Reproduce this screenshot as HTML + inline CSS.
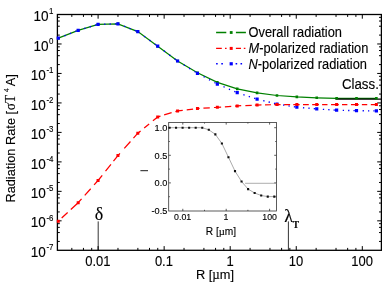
<!DOCTYPE html>
<html><head><meta charset="utf-8"><title>Radiation Rate</title>
<style>html,body{margin:0;padding:0;background:#fff;}svg{display:block;will-change:transform;}text{font-family:"Liberation Sans",sans-serif;fill:#000;stroke:#000;stroke-width:0.12px;}.s{font-family:"Liberation Serif",serif;}</style></head><body>
<svg width="382" height="295" viewBox="0 0 382 295">
<rect width="382" height="295" fill="#fff"/>
<path d="M71.82 250.3v-2.4M71.82 14.5v2.4M83.45 250.3v-2.4M83.45 14.5v2.4M91.70 250.3v-2.4M91.70 14.5v2.4M98.10 250.3v-4.2M98.10 14.5v4.2M117.98 250.3v-2.4M117.98 14.5v2.4M137.87 250.3v-2.4M137.87 14.5v2.4M149.50 250.3v-2.4M149.50 14.5v2.4M157.75 250.3v-2.4M157.75 14.5v2.4M164.15 250.3v-4.2M164.15 14.5v4.2M184.03 250.3v-2.4M184.03 14.5v2.4M203.92 250.3v-2.4M203.92 14.5v2.4M215.55 250.3v-2.4M215.55 14.5v2.4M223.80 250.3v-2.4M223.80 14.5v2.4M230.20 250.3v-4.2M230.20 14.5v4.2M250.08 250.3v-2.4M250.08 14.5v2.4M269.97 250.3v-2.4M269.97 14.5v2.4M281.60 250.3v-2.4M281.60 14.5v2.4M289.85 250.3v-2.4M289.85 14.5v2.4M296.25 250.3v-4.2M296.25 14.5v4.2M316.13 250.3v-2.4M316.13 14.5v2.4M336.02 250.3v-2.4M336.02 14.5v2.4M347.65 250.3v-2.4M347.65 14.5v2.4M355.90 250.3v-2.4M355.90 14.5v2.4M362.30 250.3v-4.2M362.30 14.5v4.2M57.4 241.43h2.4M381.4 241.43h-2.4M57.4 232.55h2.4M381.4 232.55h-2.4M57.4 227.36h2.4M381.4 227.36h-2.4M57.4 223.68h2.4M381.4 223.68h-2.4M57.4 220.83h4.2M381.4 220.83h-4.2M57.4 211.95h2.4M381.4 211.95h-2.4M57.4 203.08h2.4M381.4 203.08h-2.4M57.4 197.89h2.4M381.4 197.89h-2.4M57.4 194.21h2.4M381.4 194.21h-2.4M57.4 191.35h4.2M381.4 191.35h-4.2M57.4 182.48h2.4M381.4 182.48h-2.4M57.4 173.60h2.4M381.4 173.60h-2.4M57.4 168.41h2.4M381.4 168.41h-2.4M57.4 164.73h2.4M381.4 164.73h-2.4M57.4 161.88h4.2M381.4 161.88h-4.2M57.4 153.00h2.4M381.4 153.00h-2.4M57.4 144.13h2.4M381.4 144.13h-2.4M57.4 138.94h2.4M381.4 138.94h-2.4M57.4 135.26h2.4M381.4 135.26h-2.4M57.4 132.40h4.2M381.4 132.40h-4.2M57.4 123.53h2.4M381.4 123.53h-2.4M57.4 114.65h2.4M381.4 114.65h-2.4M57.4 109.46h2.4M381.4 109.46h-2.4M57.4 105.78h2.4M381.4 105.78h-2.4M57.4 102.93h4.2M381.4 102.93h-4.2M57.4 94.05h2.4M381.4 94.05h-2.4M57.4 85.18h2.4M381.4 85.18h-2.4M57.4 79.99h2.4M381.4 79.99h-2.4M57.4 76.31h2.4M381.4 76.31h-2.4M57.4 73.45h4.2M381.4 73.45h-4.2M57.4 64.58h2.4M381.4 64.58h-2.4M57.4 55.70h2.4M381.4 55.70h-2.4M57.4 50.51h2.4M381.4 50.51h-2.4M57.4 46.83h2.4M381.4 46.83h-2.4M57.4 43.98h4.2M381.4 43.98h-4.2M57.4 35.10h2.4M381.4 35.10h-2.4M57.4 26.23h2.4M381.4 26.23h-2.4M57.4 21.04h2.4M381.4 21.04h-2.4M57.4 17.36h2.4M381.4 17.36h-2.4" stroke="#000" stroke-width="1" fill="none"/>
<rect x="57.4" y="14.5" width="324.0" height="235.80" fill="none" stroke="#000" stroke-width="1.3"/>
<text transform="translate(97.9 265.7) scale(1 1.07)" font-size="13" text-anchor="middle">0.01</text>
<text transform="translate(163.9 265.7) scale(1 1.07)" font-size="13" text-anchor="middle">0.1</text>
<text transform="translate(230.0 265.7) scale(1 1.07)" font-size="13" text-anchor="middle">1</text>
<text transform="translate(296.1 265.7) scale(1 1.07)" font-size="13" text-anchor="middle">10</text>
<text transform="translate(362.1 265.7) scale(1 1.07)" font-size="13" text-anchor="middle">100</text>
<text transform="translate(33.4 21.1) scale(1 1.05)" font-size="13.6">10</text>
<text transform="translate(53.4 14.2) scale(1 1.05)" font-size="7.9" text-anchor="end">1</text>
<text transform="translate(33.4 50.6) scale(1 1.05)" font-size="13.6">10</text>
<text transform="translate(53.4 43.7) scale(1 1.05)" font-size="7.9" text-anchor="end">0</text>
<text transform="translate(30.7 80.0) scale(1 1.05)" font-size="13.6">10</text>
<text transform="translate(53.4 73.2) scale(1 1.05)" font-size="7.9" text-anchor="end">-1</text>
<text transform="translate(30.7 109.5) scale(1 1.05)" font-size="13.6">10</text>
<text transform="translate(53.4 102.6) scale(1 1.05)" font-size="7.9" text-anchor="end">-2</text>
<text transform="translate(30.7 139.0) scale(1 1.05)" font-size="13.6">10</text>
<text transform="translate(53.4 132.1) scale(1 1.05)" font-size="7.9" text-anchor="end">-3</text>
<text transform="translate(30.7 168.5) scale(1 1.05)" font-size="13.6">10</text>
<text transform="translate(53.4 161.6) scale(1 1.05)" font-size="7.9" text-anchor="end">-4</text>
<text transform="translate(30.7 198.0) scale(1 1.05)" font-size="13.6">10</text>
<text transform="translate(53.4 191.1) scale(1 1.05)" font-size="7.9" text-anchor="end">-5</text>
<text transform="translate(30.7 227.4) scale(1 1.05)" font-size="13.6">10</text>
<text transform="translate(53.4 220.5) scale(1 1.05)" font-size="7.9" text-anchor="end">-6</text>
<text transform="translate(30.7 256.9) scale(1 1.05)" font-size="13.6">10</text>
<text transform="translate(53.4 250.0) scale(1 1.05)" font-size="7.9" text-anchor="end">-7</text>
<text transform="translate(196 279.2) scale(1 1.07)" font-size="12.8">R [<tspan class="s" font-size="13">µ</tspan>m]</text>
<text transform="translate(14.6 202.6) rotate(-90) scale(1 1.07)" font-size="12.8">Radiation Rate [<tspan class="s" font-size="13.5" x="92.3">σT</tspan><tspan font-size="6.5" dy="-5.2" x="110.6">4</tspan><tspan dy="5.2" x="116.4">A]</tspan></text>
<text transform="translate(341.9 88.5) scale(1 1.07)" font-size="13.3">Class.</text>
<polyline points="58.30,38.2 78.18,30.3 98.06,24.4 117.94,23.8 137.82,31.6 157.70,46.2 177.58,61.0 197.46,72.8 217.34,82.3 237.22,88.9 257.10,92.9 276.98,95.5 296.86,96.9 316.74,97.8 336.62,98.3 356.50,98.3 376.38,98.3" fill="none" stroke="#008000" stroke-width="1.25"/>
<path d="M335.5 99.15H381.4" stroke="#000" stroke-width="1.4"/>
<path d="M57.00 36.90h2.6v2.6h-2.6zM76.88 29.00h2.6v2.6h-2.6zM96.76 23.10h2.6v2.6h-2.6zM116.64 22.50h2.6v2.6h-2.6zM136.52 30.30h2.6v2.6h-2.6zM156.40 44.90h2.6v2.6h-2.6zM176.28 59.70h2.6v2.6h-2.6zM196.16 71.50h2.6v2.6h-2.6zM216.04 81.00h2.6v2.6h-2.6zM235.92 87.60h2.6v2.6h-2.6zM255.80 91.60h2.6v2.6h-2.6zM275.68 94.20h2.6v2.6h-2.6zM295.56 95.60h2.6v2.6h-2.6zM315.44 96.50h2.6v2.6h-2.6zM335.32 97.00h2.6v2.6h-2.6zM355.20 97.00h2.6v2.6h-2.6zM375.08 97.00h2.6v2.6h-2.6z" fill="#008000"/>
<path d="M64.46 35.75L65.66 35.27M69.82 33.62L71.03 33.14M75.19 31.49L76.40 31.01M84.32 28.48L85.56 28.11M89.68 26.89L90.93 26.52M95.05 25.29L96.30 24.92M104.17 24.22L105.47 24.18M109.54 24.05L110.84 24.01M114.90 23.89L116.20 23.85M124.09 26.21L125.30 26.69M129.46 28.32L130.67 28.80M134.83 30.43L136.04 30.90M144.06 36.18L145.10 36.95M149.42 40.12L150.47 40.89M154.79 44.06L155.84 44.83M163.94 50.84L164.98 51.62M169.31 54.84L170.35 55.62M174.67 58.84L175.72 59.61M183.79 64.84L184.89 65.52M189.15 68.16L190.26 68.84M194.52 71.48L195.63 72.17M203.65 76.66L204.79 77.28M209.02 79.58L210.16 80.20M214.38 82.49L215.53 83.11M223.50 86.73L224.70 87.25M228.87 89.03L230.06 89.54M234.24 91.32L235.43 91.84M243.36 94.64L244.60 95.05M248.73 96.42L249.96 96.83M254.10 98.20L255.33 98.61M263.23 100.68L264.49 100.98M268.59 101.98L269.86 102.28M273.96 103.27L275.23 103.58M283.10 104.98L284.38 105.19M288.47 105.85L289.75 106.06M293.83 106.71L295.12 106.92M302.97 107.72L304.27 107.83M308.34 108.18L309.63 108.29M313.71 108.64L315.00 108.75M322.85 109.30L324.15 109.38M328.22 109.65L329.52 109.74M333.59 110.00L334.88 110.09M342.73 110.35L344.03 110.39M348.10 110.49L349.40 110.52M353.46 110.62L354.76 110.66M362.61 110.76L363.91 110.77M367.98 110.82L369.28 110.83M373.34 110.87L374.64 110.88" fill="none" stroke="#0000ff" stroke-width="1.35"/>
<path d="M56.70 36.60h3.2v3.2h-3.2zM76.58 28.70h3.2v3.2h-3.2zM96.46 22.80h3.2v3.2h-3.2zM116.34 22.20h3.2v3.2h-3.2zM136.22 30.00h3.2v3.2h-3.2zM156.10 44.60h3.2v3.2h-3.2zM175.98 59.40h3.2v3.2h-3.2zM195.86 71.70h3.2v3.2h-3.2zM215.74 82.50h3.2v3.2h-3.2zM235.62 91.00h3.2v3.2h-3.2zM255.50 97.60h3.2v3.2h-3.2zM275.38 102.40h3.2v3.2h-3.2zM295.26 105.60h3.2v3.2h-3.2zM315.14 107.30h3.2v3.2h-3.2zM335.02 108.60h3.2v3.2h-3.2zM354.90 109.10h3.2v3.2h-3.2zM374.78 109.30h3.2v3.2h-3.2z" fill="#0000ff"/>
<path d="M61.68 218.05L67.64 212.50M70.82 209.54L78.18 202.70M78.18 202.70L81.56 198.93M84.74 195.37L90.70 188.71M94.08 184.94L98.06 180.50M98.06 180.50L102.23 175.27M105.52 171.16L110.98 164.31M113.47 161.20L117.94 155.60M117.94 155.60L119.93 153.36M124.30 148.43L130.46 141.49M133.45 138.13L137.82 133.20M137.82 133.20L140.60 130.92M144.18 127.98L149.15 123.91M152.93 120.81L157.70 116.90M157.70 116.90L160.48 116.06M164.16 114.95L171.62 112.70M175.39 111.56L177.58 110.90M177.58 110.90L182.75 110.28M186.72 109.80L193.09 109.03M196.86 108.57L197.46 108.50M197.46 108.50L199.65 108.37M203.42 108.14L209.79 107.76M213.96 107.50L217.34 107.30M217.34 107.30L221.12 107.03M224.89 106.77L231.26 106.32M235.03 106.05L237.22 105.90M237.22 105.90L241.20 105.74M245.37 105.57L251.73 105.32M254.91 105.19L257.10 105.10M257.10 105.10L261.47 104.99M265.05 104.90L271.02 104.75M274.20 104.67L276.98 104.60M276.98 104.60L280.56 104.58M284.14 104.56L290.10 104.53M293.28 104.52L296.86 104.50M296.86 104.50L299.64 104.50M303.02 104.50L308.79 104.50M312.17 104.50L316.74 104.50M316.74 104.50L318.93 104.50M322.11 104.50L327.48 104.50M331.05 104.50L336.62 104.50M336.62 104.50L338.81 104.50M341.99 104.50L347.36 104.50M350.93 104.50L356.50 104.50M356.50 104.50L358.69 104.50M361.87 104.50L367.24 104.50M370.81 104.50L376.38 104.50" fill="none" stroke="#ff0000" stroke-width="1.25"/>
<path d="M56.80 219.70h3.0v3.0h-3.0zM76.68 201.20h3.0v3.0h-3.0zM96.56 179.00h3.0v3.0h-3.0zM116.44 154.10h3.0v3.0h-3.0zM136.32 131.70h3.0v3.0h-3.0zM156.20 115.40h3.0v3.0h-3.0zM176.08 109.40h3.0v3.0h-3.0zM195.96 107.00h3.0v3.0h-3.0zM215.84 105.80h3.0v3.0h-3.0zM235.72 104.40h3.0v3.0h-3.0zM255.60 103.60h3.0v3.0h-3.0zM275.48 103.10h3.0v3.0h-3.0zM295.36 103.00h3.0v3.0h-3.0zM315.24 103.00h3.0v3.0h-3.0zM335.12 103.00h3.0v3.0h-3.0zM355.00 103.00h3.0v3.0h-3.0zM374.88 103.00h3.0v3.0h-3.0z" fill="#ff0000"/>
<path d="M216.1 32.5H226.3M235.9 32.5H245.9" stroke="#008000" stroke-width="1.4"/><rect x="229.8" y="31.1" width="2.8" height="2.8" fill="#008000"/>
<path d="M216.1 48.4H221.8M225 48.4h1.6M235.9 48.4H241M243.8 48.4h1.6" stroke="#ff0000" stroke-width="1.4"/><rect x="229.7" y="46.9" width="3" height="3" fill="#ff0000"/>
<path d="M216.1 63.8h1.6M221.3 63.8h1.6M235.6 63.8h1.6M240.5 63.8h1.6" stroke="#0000ff" stroke-width="1.6"/><rect x="229.6" y="62.2" width="3.2" height="3.2" fill="#0000ff"/>
<text transform="translate(248.5 37.4) scale(1 1.07)" font-size="12.85">Overall radiation</text>
<text transform="translate(248.5 53.3) scale(1 1.07)" font-size="12.85"><tspan font-style="italic">M</tspan>-polarized radiation</text>
<text transform="translate(248.5 68.6) scale(1 1.07)" font-size="12.85"><tspan font-style="italic">N</tspan>-polarized radiation</text>
<path d="M98.2 221.4V250M288.4 221.4V250" stroke="#000" stroke-width="0.8"/>
<text class="s" x="94.8" y="220.2" font-size="18">δ</text>
<text class="s" x="284.3" y="221.8" font-size="18">λ</text>
<text class="s" x="292.7" y="228.3" font-size="9.5" font-weight="bold">T</text>
<rect x="168.7" y="122.4" width="107.7" height="88.6" fill="#fff" stroke="#333" stroke-width="0.8"/>
<path d="M168.7 127.70h2.2M276.4 127.70h-2.2M168.7 141.50h1.2M276.4 141.50h-1.2M168.7 155.30h2.2M276.4 155.30h-2.2M168.7 169.10h1.2M276.4 169.10h-1.2M168.7 182.90h2.2M276.4 182.90h-2.2M168.7 196.70h1.2M276.4 196.70h-1.2M182.80 211.0v-2.2M182.80 122.4v2.2M204.50 211.0v-1.2M204.50 122.4v1.2M226.20 211.0v-2.2M226.20 122.4v2.2M247.90 211.0v-1.2M247.90 122.4v1.2M269.60 211.0v-2.2M269.60 122.4v2.2" stroke="#333" stroke-width="0.8" fill="none"/>
<path d="M245.1 183.3H276.4" stroke="#999" stroke-width="0.8"/>
<polyline points="169.50,127.7 176.05,127.7 182.60,127.7 189.15,127.7 195.70,127.7 202.25,127.7 208.80,129.8 215.35,134.4 221.90,143.5 228.45,157.2 235.00,171.1 241.55,181.5 248.10,189.1 254.65,193.0 261.20,195.5 267.75,196.6 274.30,196.6" fill="none" stroke="#555" stroke-width="0.5"/>
<path d="M168.45 126.65h2.1v2.1h-2.1zM175.00 126.65h2.1v2.1h-2.1zM181.55 126.65h2.1v2.1h-2.1zM188.10 126.65h2.1v2.1h-2.1zM194.65 126.65h2.1v2.1h-2.1zM201.20 126.65h2.1v2.1h-2.1zM207.75 128.75h2.1v2.1h-2.1zM214.30 133.35h2.1v2.1h-2.1zM220.85 142.45h2.1v2.1h-2.1zM227.40 156.15h2.1v2.1h-2.1zM233.95 170.05h2.1v2.1h-2.1zM240.50 180.45h2.1v2.1h-2.1zM247.05 188.05h2.1v2.1h-2.1zM253.60 191.95h2.1v2.1h-2.1zM260.15 194.45h2.1v2.1h-2.1zM266.70 195.55h2.1v2.1h-2.1zM273.25 195.55h2.1v2.1h-2.1z" fill="#111"/>
<text transform="translate(167.3 131.1) scale(1 1.07)" font-size="9.2" text-anchor="end">1.0</text>
<text transform="translate(167.3 158.7) scale(1 1.07)" font-size="9.2" text-anchor="end">0.5</text>
<text transform="translate(167.3 186.3) scale(1 1.07)" font-size="9.2" text-anchor="end">0.0</text>
<text transform="translate(167.3 213.9) scale(1 1.07)" font-size="9.2" text-anchor="end">-0.5</text>
<text transform="translate(182.6 220.1) scale(1 1.07)" font-size="8.8" text-anchor="middle">0.01</text>
<text transform="translate(226.0 220.1) scale(1 1.07)" font-size="8.8" text-anchor="middle">1</text>
<text transform="translate(269.6 220.1) scale(1 1.07)" font-size="8.8" text-anchor="middle">100</text>
<text transform="translate(205.7 234.6) scale(1 1.07)" font-size="10.2">R [<tspan class="s" font-size="10.6">µ</tspan>m]</text>
<path d="M140.4 170.7H148" stroke="#000" stroke-width="0.9"/>
</svg></body></html>
